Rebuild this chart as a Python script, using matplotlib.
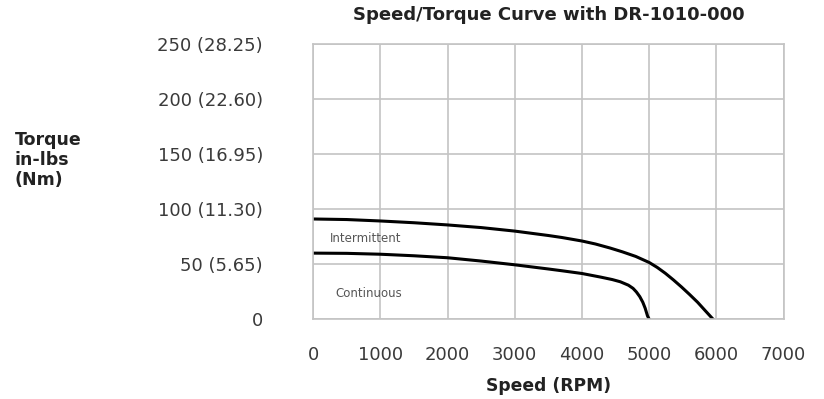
"""Speed/Torque curve for the DR-1010-000 drive, redrawn from the datasheet plot."""

import matplotlib.pyplot as plt

# --- data (speed in RPM, torque in in-lbs) ---
speed_int = [0, 500, 1000, 1500, 2000, 2500, 3000, 3500, 3700, 4000, 4200, 4420, 4600,
             4800, 5000, 5120, 5240, 5360, 5480, 5600, 5720, 5830, 5950]
torque_int = [91, 90.5, 89.2, 87.6, 85.6, 83.2, 80, 76, 74.2, 71, 68.3, 64.6, 61.2,
              57, 51.5, 47, 41.7, 35.7, 29.3, 22.5, 15.4, 8, 0]

speed_cont = [0, 500, 1000, 1500, 2000, 2500, 3000, 3500, 3700, 4000, 4280, 4450, 4570,
              4690, 4760, 4810, 4860, 4905, 4940, 4975, 5000]
torque_cont = [60, 59.8, 59, 57.6, 55.8, 52.8, 49.4, 45.6, 44, 41.5, 38.2, 36, 34,
               30.9, 28, 24.7, 20.5, 15.4, 10, 3, 0]

x_ticks = [0, 1000, 2000, 3000, 4000, 5000, 6000, 7000]
y_ticks = [0, 50, 100, 150, 200, 250]
y_tick_labels = ["0", "50 (5.65)", "100 (11.30)", "150 (16.95)", "200 (22.60)", "250 (28.25)"]

plt.rcParams["font.family"] = ["DejaVu Sans"]

fig = plt.figure(figsize=(8.24, 3.99), dpi=100)
ax = fig.add_axes([0.380, 0.200, 0.571, 0.690])

ax.plot(speed_int, torque_int, color="black", lw=2.2, solid_joinstyle="round")
ax.plot(speed_cont, torque_cont, color="black", lw=2.2, solid_joinstyle="round")

ax.set_xlim(0, 7000)
ax.set_ylim(0, 250)
ax.set_xticks(x_ticks)
ax.set_yticks(y_ticks)
ax.set_yticklabels(y_tick_labels)
ax.grid(True, color="#c4c4c4", lw=1.2)
ax.set_axisbelow(True)
for s in ax.spines.values():
    s.set_color("#c4c4c4")
    s.set_linewidth(1.2)
ax.tick_params(length=0, labelsize=13, colors="#3a3a3a")
ax.tick_params(axis="y", pad=36)
ax.tick_params(axis="x", pad=19)

ax.text(250, 73, "Intermittent", fontsize=8.5, color="#555555", va="center")
ax.text(330, 23, "Continuous", fontsize=8.5, color="#555555", va="center")

ax.set_xlabel("Speed (RPM)", fontsize=12.3, fontweight="bold", color="#222222", labelpad=10)
fig.text(0.018, 0.60, "Torque\nin-lbs\n(Nm)", fontsize=12.5, fontweight="bold",
         color="#222222", va="center", ha="left", linespacing=1.15)
fig.text(0.6655, 0.963, "Speed/Torque Curve with DR-1010-000", fontsize=13,
         fontweight="bold", color="#222222", ha="center", va="center")

fig.savefig("out.png", dpi=100)
